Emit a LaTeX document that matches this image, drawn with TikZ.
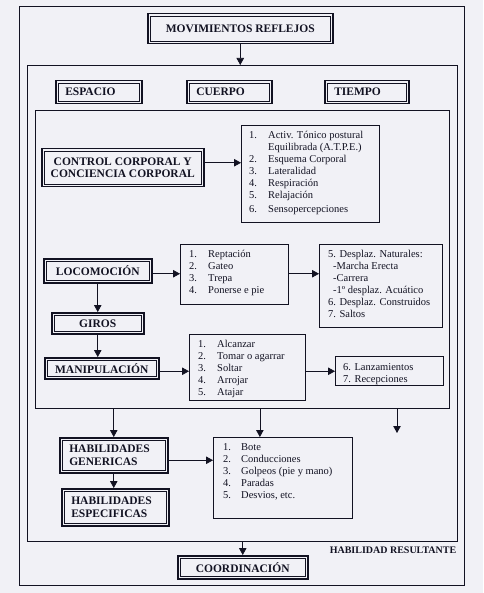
\documentclass[tikz,border=0pt]{standalone}
\usepackage{fontspec}
\setmainfont{Liberation Serif}
\usetikzlibrary{arrows.meta}
\definecolor{bg}{RGB}{241,241,246}
\definecolor{ink}{RGB}{18,18,34}
\tikzset{
  frame/.style={draw=ink, line width=1.1pt, inner sep=0pt, anchor=north west},
  listbox/.style={draw=ink, line width=0.75pt, inner sep=0pt, anchor=north west},
  dbl/.style={draw=ink, line width=1.5pt, inner sep=0pt, anchor=north west, align=center,
    font=\fontsize{11.5}{12.5}\selectfont\bfseries, text=ink,
    path picture={\draw[ink, line width=0.65pt]
      ([shift={(2.8pt,-2.8pt)}]path picture bounding box.north west) rectangle
      ([shift={(-2.8pt,2.8pt)}]path picture bounding box.south east);}},
  lefttext/.style={align=left, inner xsep=9.5pt},
  listtxt/.style={anchor=north west, inner sep=0pt, text=ink,
    font=\fontsize{10.5}{12}\selectfont},
  arr/.style={draw=ink, line width=0.75pt, -{Triangle[length=7pt,width=7.5pt]}}
}
\begin{document}
\begin{tikzpicture}[x=1pt,y=-1pt]
\fill[bg] (0,0) rectangle (483,593);
\useasboundingbox (0,0) rectangle (483,593);

% frames
\node[frame, minimum width=445pt, minimum height=579pt] (frameA) at (19,6) {};
\node[frame, minimum width=430pt, minimum height=476pt] (frameB) at (27,65) {};
\node[frame, minimum width=414pt, minimum height=298pt] (frameC) at (35,110) {};

% title boxes
\node[dbl, minimum width=185pt, minimum height=30pt] (mov) at (147,13) {MOVIMIENTOS REFLEJOS};
\node[dbl, lefttext, text width=67pt, minimum height=23pt] (esp) at (55,80) {ESPACIO};
\node[dbl, lefttext, text width=66pt, minimum height=23pt] (cue) at (186,80) {CUERPO};
\node[dbl, lefttext, text width=65pt, minimum height=23pt] (tie) at (324,80) {TIEMPO};
\node[dbl, minimum width=162pt, minimum height=38pt] (cc) at (41,148) {CONTROL CORPORAL Y\\CONCIENCIA CORPORAL};
\node[dbl, minimum width=108pt, minimum height=24pt] (loc) at (43,258) {LOCOMOCIÓN};
\node[dbl, minimum width=92pt, minimum height=21pt] (gir) at (51,312) {GIROS};
\node[dbl, minimum width=114pt, minimum height=21pt] (man) at (44,357) {MANIPULACIÓN};
\node[dbl, lefttext, text width=89pt, minimum height=35pt] (hg) at (59,437) {HABILIDADES\\GENERICAS};
\node[dbl, lefttext, text width=88pt, minimum height=37pt] (he) at (61,488) {HABILIDADES\\ESPECIFICAS};
\node[dbl, minimum width=130pt, minimum height=23pt] (coo) at (177,555) {COORDINACIÓN};

% list boxes
\node[listbox, minimum width=138pt, minimum height=97pt] (ccl) at (241,125) {};
\node[listbox, minimum width=108pt, minimum height=60pt] (locl) at (180,244) {};
\node[listbox, minimum width=123pt, minimum height=83pt] (loc2) at (319,244) {};
\node[listbox, minimum width=116pt, minimum height=66pt] (manl) at (189,334) {};
\node[listbox, minimum width=108pt, minimum height=29pt] (man2) at (335,356) {};
\node[listbox, minimum width=139pt, minimum height=81pt] (hgl) at (213,437) {};

% list texts
\node[listtxt] (ccltxt) at (249,130) {\begin{tabular}{@{}p{19pt}@{}l@{}}
1. & Activ. Tónico postural\\
   & Equilibrada (A.T.P.E.)\\
2. & Esquema Corporal\\
3. & Lateralidad\\
4. & Respiración\\
5. & Relajación\\[2pt]
6. & Sensopercepciones
\end{tabular}};
\node[listtxt] (locltxt) at (189,249) {\begin{tabular}{@{}p{19pt}@{}l@{}}
1. & Reptación\\
2. & Gateo\\
3. & Trepa\\
4. & Ponerse e pie
\end{tabular}};
\node[listtxt] (loc2txt) at (328,249) {\begin{tabular}{@{}l@{}}
5. Desplaz. Naturales:\\
\hspace{5pt}-Marcha Erecta\\
\hspace{5pt}-Carrera\\
\hspace{5pt}-1º desplaz. Acuático\\
6. Desplaz. Construidos\\
7. Saltos
\end{tabular}};
\node[listtxt] (manltxt) at (198,339) {\begin{tabular}{@{}p{19pt}@{}l@{}}
1. & Alcanzar\\
2. & Tomar o agarrar\\
3. & Soltar\\
4. & Arrojar\\
5. & Atajar
\end{tabular}};
\node[listtxt] (man2txt) at (343,362) {\begin{tabular}{@{}l@{}}
6. Lanzamientos\\
7. Recepciones
\end{tabular}};
\node[listtxt] (hgltxt) at (223,442) {\begin{tabular}{@{}p{18pt}@{}l@{}}
1. & Bote\\
2. & Conducciones\\
3. & Golpeos (pie y mano)\\
4. & Paradas\\
5. & Desvios, etc.
\end{tabular}};

\node[text=ink, inner sep=0pt, font=\fontsize{10}{12}\selectfont\bfseries] (res) at (393,550) {HABILIDAD RESULTANTE};

% connectors
\draw[arr] (mov.south) -- (mov.south |- frameB.north);
\draw[arr] ([yshift=5pt]cc.east) -- ([yshift=5pt]cc.east -| ccl.west);
\draw[arr] ([yshift=-3pt]loc.east) -- ([yshift=-3pt]loc.east -| locl.west);
\draw[arr] ([yshift=-3pt]loc.east -| locl.east) -- ([yshift=-3pt]loc.east -| loc2.west);
\draw[arr] (loc.south) -- (loc.south |- gir.north);
\draw[arr] (gir.south) -- (gir.south |- man.north);
\draw[arr] ([yshift=-3pt]man.east) -- ([yshift=-3pt]man.east -| manl.west);
\draw[arr] ([yshift=-3pt]man.east -| manl.east) -- ([yshift=-3pt]man.east -| man2.west);
\draw[arr] (hg.north |- frameC.south) -- (hg.north);
\draw[arr] ([xshift=-23pt]hgl.north |- frameC.south) -- ([xshift=-23pt]hgl.north);
\coordinate (fe) at (397,433);
\draw[arr] (fe |- frameC.south) -- (fe);
\draw[arr] ([yshift=-5pt]hg.east) -- ([yshift=-5pt]hg.east -| hgl.west);
\draw[arr] (hg.south) -- (hg.south |- he.north);
\draw[arr] (coo.north |- frameB.south) -- (coo.north);
\end{tikzpicture}
\end{document}
